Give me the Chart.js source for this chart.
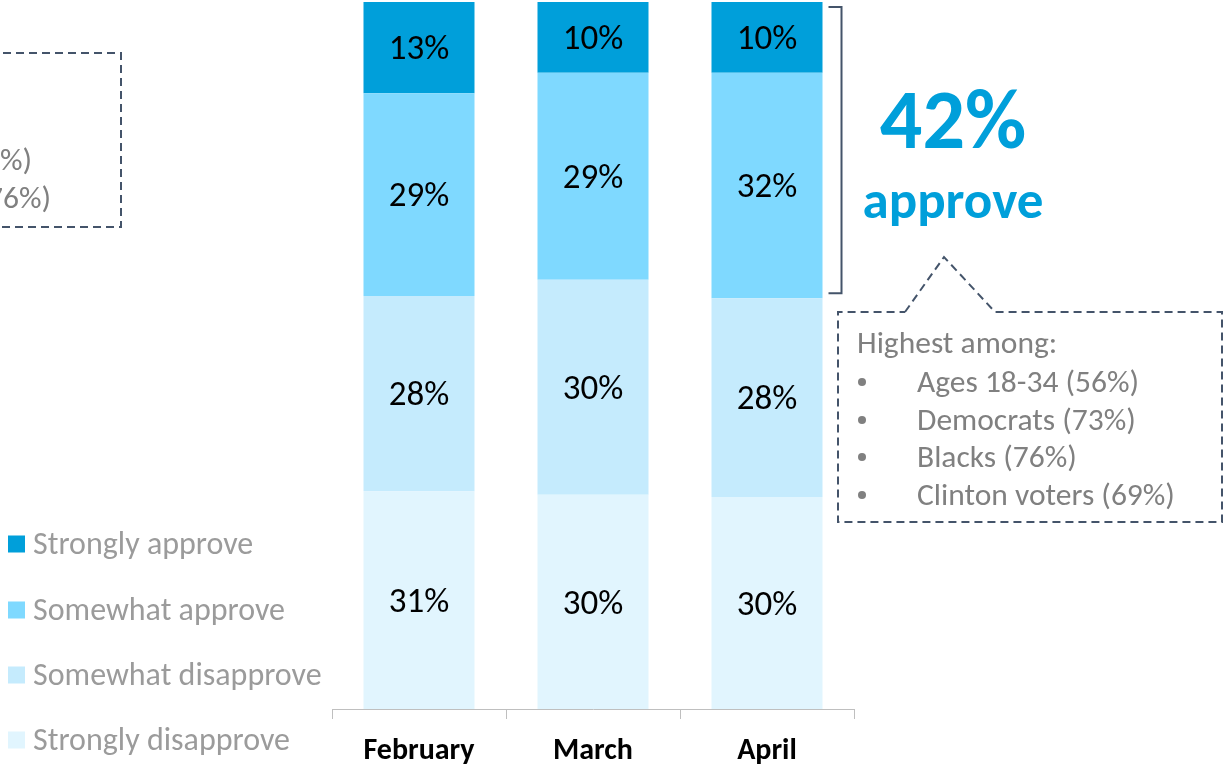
<!DOCTYPE html>
<html><head><meta charset="utf-8">
<script src="https://cdn.jsdelivr.net/npm/chart.js@4.4.0/dist/chart.umd.min.js"></script>
<style>html,body{margin:0;padding:0;background:#fff;overflow:hidden}</style>
</head><body>
<canvas id="c" width="1223" height="769"></canvas>
<script>
const categories = ['February', 'March', 'April'];
const seriesNames = ['Strongly disapprove', 'Somewhat disapprove', 'Somewhat approve', 'Strongly approve'];
const stronglyDisapprove = [30.8, 30.3, 30.0];
const somewhatDisapprove = [27.6, 30.4, 28.1];
const somewhatApprove = [28.7, 29.3, 31.9];
const stronglyApprove = [12.9, 10.0, 10.0];
const approveTotal = '42%';
const approveWord = 'approve';
const highestAmongTitle = 'Highest among:';
const highestAmong = ['Ages 18-34 (56%)', 'Democrats (73%)', 'Blacks (76%)', 'Clinton voters (69%)'];
const leftBoxLines = ['%)', '76%)'];
const colors = ['#E1F5FE', '#C5EBFD', '#7FD9FF', '#009FDA'];

const FONT = 'Carlito, Calibri, Lato, sans-serif';
const DASH = '#44546A';

function path(ctx, pts) {
  ctx.beginPath();
  ctx.moveTo(pts[0][0], pts[0][1]);
  for (let i = 1; i < pts.length; i++) ctx.lineTo(pts[i][0], pts[i][1]);
  ctx.stroke();
}

const overlay = {
  id: 'overlay',
  afterDatasetsDraw(chart) {
    const ctx = chart.ctx;
    ctx.save();
    ctx.fillStyle = '#000';
    ctx.font = `35px ${FONT}`;
    ctx.textAlign = 'center';
    ctx.textBaseline = 'middle';
    chart.data.datasets.forEach((ds, i) => {
      chart.getDatasetMeta(i).data.forEach((bar, j) => {
        ctx.fillText(Math.round(ds.data[j]) + '%', bar.x, (bar.y + bar.base) / 2 + 3);
      });
    });
    ctx.restore();
  },
  afterDraw(chart) {
    const ctx = chart.ctx;
    ctx.save();
    // legend (top series first)
    const legendY = [544, 610, 675, 740];
    ctx.font = `32px ${FONT}`;
    ctx.textBaseline = 'middle';
    ctx.textAlign = 'left';
    for (let k = 0; k < 4; k++) {
      const idx = 3 - k;
      ctx.fillStyle = colors[idx];
      ctx.fillRect(8, legendY[k] - 8.5, 17, 17);
      ctx.fillStyle = '#9b9b9b';
      ctx.fillText(seriesNames[idx], 33, legendY[k] + 2);
    }

    // bracket around April approve segments
    const top = chart.getDatasetMeta(3).data[2];
    const mid = chart.getDatasetMeta(2).data[2];
    const bx = top.x + top.width / 2 + 19;
    const y1 = top.y + 5, y2 = mid.base - 5;
    ctx.strokeStyle = DASH;
    ctx.lineWidth = 2;
    ctx.setLineDash([]);
    path(ctx, [[bx - 13, y1], [bx, y1], [bx, y2], [bx - 13, y2]]);

    // 42% approve
    ctx.fillStyle = '#009FDA';
    ctx.textAlign = 'center';
    ctx.textBaseline = 'alphabetic';
    ctx.font = `bold 84px ${FONT}`;
    ctx.fillText(approveTotal, 953, 148);
    ctx.font = `bold 53px ${FONT}`;
    ctx.fillText(approveWord, 953, 218);

    // callout box with pointer
    ctx.setLineDash([8, 5]);
    ctx.lineWidth = 2;
    ctx.strokeStyle = DASH;
    path(ctx, [[905, 312], [944, 257], [995, 312], [1222, 312], [1222, 522], [838, 522], [838, 312], [905, 312]]);

    ctx.textAlign = 'left';
    ctx.fillStyle = '#808080';
    ctx.font = `31.5px ${FONT}`;
    ctx.fillText(highestAmongTitle, 857, 353);
    const bl = [392, 430, 467, 505];
    highestAmong.forEach((t, i) => {
      ctx.beginPath();
      ctx.arc(862, bl[i] - 10, 4, 0, Math.PI * 2);
      ctx.fill();
      ctx.fillText(t, 917, bl[i]);
    });

    // partially visible left callout
    path(ctx, [[-10, 53], [121, 53], [121, 227], [-10, 227]]);
    ctx.textAlign = 'right';
    ctx.fillText(leftBoxLines[0], 32, 170);
    ctx.fillText(leftBoxLines[1], 51, 208);
    ctx.restore();
  }
};

const datasets = [stronglyDisapprove, somewhatDisapprove, somewhatApprove, stronglyApprove].map((d, i) => ({
  label: seriesNames[i],
  data: d,
  backgroundColor: colors[i],
  borderWidth: 0,
  categoryPercentage: 1,
  barPercentage: 0.638
}));

new Chart(document.getElementById('c'), {
  type: 'bar',
  data: { labels: categories, datasets },
  options: {
    responsive: false,
    animation: false,
    events: [],
    layout: { padding: { left: 332, right: 369, top: 2, bottom: 2 } },
    plugins: { legend: { display: false }, tooltip: { enabled: false } },
    scales: {
      x: {
        stacked: true,
        afterFit(scale) { scale.height = 58; },
        border: { display: true, color: '#BFBFBF', width: 1 },
        grid: { offset: true, drawOnChartArea: false, drawTicks: true, tickLength: 10, color: '#BFBFBF' },
        ticks: { color: '#000', font: { family: FONT, size: 30, weight: 'bold' }, padding: 14, maxRotation: 0 }
      },
      y: { stacked: true, display: false, min: 0, max: 100 }
    }
  },
  plugins: [overlay]
});
</script>
</body></html>
